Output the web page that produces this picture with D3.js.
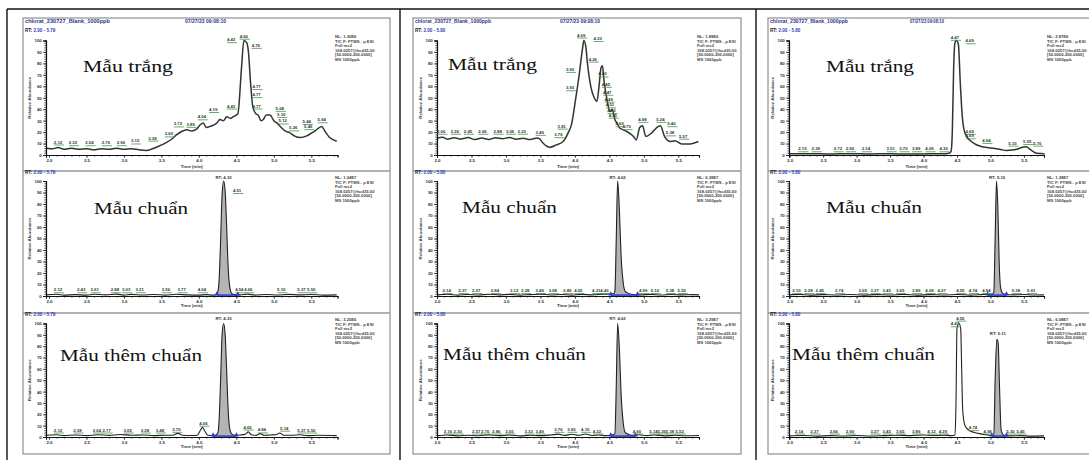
<!DOCTYPE html>
<html><head><meta charset="utf-8">
<script src="https://cdn.jsdelivr.net/npm/d3@7"></script>
<style>body{margin:0;background:#fff}svg{display:block;background:#fff}</style>
</head><body><svg id="c" width="1089" height="460"></svg>
<script>
// ---------------- DATA ----------------
const rowTitles = ["Mẫu trắng", "Mẫu chuẩn", "Mẫu thêm chuẩn"];
const xTicks = [2.0, 2.5, 3.0, 3.5, 4.0, 4.5, 5.0, 5.5];
const yTicks = [0, 10, 20, 30, 40, 50, 60, 70, 80, 90, 100];
const rtRanges = ["2.00 - 5.79", "2.00 - 5.80", "2.00 - 5.80"];
const headerFiles = ["chlorat_230727_Blank_1000ppb", "chlorat_230727_Blank_1000ppb", "chlorat_230727_Blank_1000ppb"];
const headerDates = ["07/27/23 09:08:10", "07/27/23 09:08:10", "07/27/23 09:08:10"];
const nlValues = [["NL: 1.30E6", "NL: 1.04E7", "NL: 3.25E6"],
                  ["NL: 1.89E6", "NL: 6.38E7", "NL: 3.29E7"],
                  ["NL: 2.87E6", "NL: 1.38E7", "NL: 6.08E7"]];
const infoLines = ["TIC F: FTMS - p ESI", "Full ms2", "168.0257@hcd35.00", "[50.0000-200.0000]", "MS 1000ppb"];

// panel 1 traces [time, relative abundance]
const p1Blank = [[1.97,6],[2.05,5.5],[2.12,6.5],[2.2,5],[2.3,6],[2.4,5],[2.5,5.5],[2.6,4.5],[2.7,5.5],[2.8,5],[2.9,6],[3.0,5],[3.1,5.5],[3.2,4.5],[3.3,4],[3.44,7],[3.57,11],[3.64,14],[3.70,17.5],[3.77,20.5],[3.84,22],[3.9,21],[3.97,22.5],[4.01,26],[4.06,28],[4.10,24],[4.15,25],[4.19,26],[4.24,28],[4.28,31],[4.33,30],[4.37,33.5],[4.42,32],[4.46,33.5],[4.52,36],[4.57,77],[4.60,100],[4.64,98],[4.66,91],[4.69,63],[4.72,42],[4.76,36],[4.79,35],[4.83,30],[4.86,31],[4.90,35],[4.95,35],[5.0,30],[5.04,28],[5.10,24],[5.15,21],[5.21,19.6],[5.28,16.5],[5.35,15.2],[5.44,16.7],[5.50,19],[5.55,21],[5.64,25],[5.68,21],[5.75,15],[5.84,12]];
const p1BlankLbl = [[2.12,9.6],[2.32,9],[2.54,9],[2.76,9],[2.96,9],[3.15,10.5],[3.38,13],[3.60,16.7],[3.72,25.4],[3.89,25],[4.04,31.6],[4.19,38],[4.43,41],[4.43,99],[4.60,102],[4.76,94],[4.77,58],[4.77,51],[4.77,41],[5.08,39],[5.10,33.6],[5.12,28],[5.26,22],[5.44,27.5],[5.46,23],[5.64,29]];
const p1Std = [[1.96,1],[2.1,1.5],[2.2,0.8],[2.35,1.2],[2.5,0.8],[2.6,1.5],[2.75,1],[2.9,1.6],[3.0,0.8],[3.1,1.4],[3.25,0.9],[3.4,1.3],[3.55,0.8],[3.7,1.5],[3.85,1],[4.0,0.8],[4.1,1.2],[4.18,0.8],[4.22,1],[4.25,3],[4.27,14],[4.29,48],[4.31,88],[4.33,100],[4.35,92],[4.37,62],[4.39,26],[4.41,9],[4.44,2],[4.48,1.2],[4.55,1],[4.65,1.6],[4.75,0.8],[4.9,1.3],[5.05,0.9],[5.2,1.4],[5.35,1],[5.5,1.3],[5.65,0.8],[5.84,1]];
const p1StdLbl = [[2.12,3.7],[2.43,3.7],[2.61,3.7],[2.88,3.7],[3.03,3.7],[3.21,3.7],[3.56,3.7],[3.77,3.7],[4.04,3.7],[4.54,3.7],[4.66,3.7],[5.10,3.7],[5.37,3.7],[5.50,3.7],[4.51,90]];
const p1Spk = [[1.96,1.5],[2.1,2],[2.2,1.2],[2.35,1.8],[2.5,1.2],[2.65,2],[2.8,1.4],[2.95,2.2],[3.1,1.5],[3.25,1.8],[3.4,1.2],[3.55,1.6],[3.65,1.5],[3.72,3.2],[3.78,1.5],[3.9,1.3],[3.98,1.5],[4.02,6],[4.05,8.5],[4.08,5],[4.12,1.5],[4.2,1.2],[4.25,3],[4.27,15],[4.29,50],[4.31,90],[4.33,100],[4.35,91],[4.37,60],[4.39,25],[4.41,8],[4.44,2.5],[4.48,1.5],[4.55,1.8],[4.62,2.5],[4.66,4.5],[4.70,2],[4.76,1.5],[4.82,3],[4.87,1.5],[4.95,1.8],[5.03,2],[5.08,3.5],[5.13,1.6],[5.25,1.5],[5.35,2],[5.45,1.2],[5.6,1.5],[5.84,1.2]];
const p1SpkLbl = [[2.12,4.4],[2.38,4.4],[2.64,4.4],[2.77,4.4],[3.05,4.4],[3.28,4.4],[3.48,4.4],[3.70,5],[4.06,10.4],[4.65,7],[4.84,4.5],[5.14,6],[5.37,4.4],[5.50,4.4]];

// panel 2 traces
const p2Blank = [[2.0,14.7],[2.08,15.5],[2.15,13.8],[2.25,15],[2.35,14],[2.45,15.2],[2.55,13.5],[2.65,14.8],[2.75,13.6],[2.85,15],[2.95,14.2],[3.05,15.3],[3.15,13.8],[3.25,14.6],[3.35,13.5],[3.45,14.8],[3.49,14],[3.54,10.3],[3.64,6.8],[3.73,8.8],[3.83,11.8],[3.90,19.1],[3.95,26.5],[4.01,48.5],[4.06,69],[4.11,92.7],[4.13,100],[4.16,94],[4.18,81],[4.23,60],[4.28,50],[4.32,47],[4.35,60],[4.38,76.5],[4.40,78],[4.42,66],[4.47,47],[4.51,38],[4.54,40],[4.58,31],[4.62,27],[4.65,23.5],[4.70,22],[4.75,20.6],[4.85,16.2],[4.89,13.2],[4.94,24],[4.98,25.6],[5.03,16.2],[5.11,19.1],[5.21,25],[5.24,25.6],[5.30,16.2],[5.38,11.8],[5.45,12.4],[5.55,9.7],[5.67,9.7],[5.79,11.8]];
const p2BlankLbl = [[2.06,19],[2.26,19],[2.45,19],[2.66,19],[2.88,19],[3.06,19],[3.23,19],[3.49,18],[3.76,16],[3.81,23.5],[3.93,57],[3.93,73],[4.09,103],[4.33,100],[4.26,82],[4.40,69],[4.45,60],[4.47,53],[4.49,47],[4.51,42],[4.53,37],[4.55,33],[4.65,25.6],[4.75,23],[4.98,29.4],[5.24,29.4],[5.40,25.6],[5.38,17.6],[5.57,14.7]];
const p2Std = [[2.0,1],[2.15,1.5],[2.3,0.8],[2.45,1.3],[2.6,0.9],[2.75,1.5],[2.9,1],[3.05,1.4],[3.2,0.8],[3.35,1.2],[3.5,1.6],[3.65,0.9],[3.8,1.3],[3.95,0.8],[4.1,1.4],[4.25,1],[4.4,1.5],[4.5,1.8],[4.56,2],[4.58,4],[4.60,50],[4.62,100],[4.645,75],[4.67,35],[4.70,12],[4.73,4],[4.77,2.5],[4.82,1.5],[4.95,1],[5.1,1.4],[5.25,0.9],[5.4,1.3],[5.55,1],[5.7,1.2],[5.8,1]];
const p2StdLbl = [[2.14,3],[2.37,3],[2.57,3],[2.84,3],[3.12,3],[3.28,3],[3.49,3],[3.68,3],[3.89,3],[4.05,3],[4.31,3],[4.43,3],[4.99,3],[5.16,3],[5.38,3],[5.55,3]];
const p2Spk = [[2.0,1.2],[2.15,1.8],[2.3,1],[2.45,1.6],[2.6,1.1],[2.75,1.9],[2.9,1.2],[3.05,1.7],[3.2,1],[3.35,1.5],[3.5,1.2],[3.65,1.8],[3.76,2.5],[3.85,1.4],[3.95,2.4],[4.05,1.5],[4.15,2.6],[4.25,1.3],[4.35,1.7],[4.45,1.2],[4.53,1.5],[4.58,3],[4.60,45],[4.62,100],[4.645,78],[4.67,38],[4.70,13],[4.73,4],[4.77,2.5],[4.83,1.5],[4.92,2],[5.05,1.2],[5.15,1.8],[5.3,1],[5.45,1.5],[5.6,1.1],[5.8,1.3]];
const p2SpkLbl = [[2.16,3.5],[2.30,3.5],[2.57,3.5],[2.70,3.5],[2.86,3.5],[3.05,3.5],[3.33,3.5],[3.49,3.5],[3.76,5],[3.95,5],[4.15,5],[4.32,3.5],[4.90,3.5],[5.14,3.5],[5.26,3.5],[5.38,3.5],[5.52,3.5]];

// panel 3 traces
const p3Blank = [[1.99,1],[2.3,1.2],[2.6,0.8],[2.9,1.2],[3.2,0.9],[3.5,1.1],[3.8,0.8],[4.1,1.1],[4.3,1],[4.38,1.5],[4.41,3],[4.43,20],[4.45,76],[4.47,98],[4.49,100],[4.52,97],[4.55,62],[4.58,33],[4.62,19],[4.69,13],[4.76,10],[4.84,7.8],[4.95,6.5],[5.04,5.8],[5.15,4.8],[5.24,4],[5.32,4.3],[5.39,5],[5.49,7],[5.54,7.3],[5.59,5],[5.64,3],[5.69,1.5],[5.81,1]];
const p3BlankLbl = [[2.19,3.7],[2.39,3.7],[2.72,3.7],[2.90,3.7],[3.14,3.7],[3.51,3.7],[3.70,3.7],[3.89,3.7],[4.09,3.7],[4.30,3.7],[4.47,101],[4.69,98],[4.69,19],[4.69,15],[4.94,11],[5.33,8.6],[5.55,10],[5.70,8.6]];
const p3Std = [[1.99,1],[2.15,1.4],[2.3,0.8],[2.5,1.2],[2.7,0.9],[2.9,1.3],[3.1,0.8],[3.3,1.2],[3.5,0.9],[3.7,1.4],[3.9,0.8],[4.1,1.2],[4.3,0.9],[4.5,1.3],[4.7,0.8],[4.85,1.2],[4.95,1.6],[5.02,1.5],[5.05,3],[5.07,50],[5.09,100],[5.11,78],[5.13,30],[5.15,8],[5.18,2.5],[5.22,1.5],[5.35,1],[5.5,1.3],[5.65,0.9],[5.8,1]];
const p3StdLbl = [[2.10,3],[2.28,3],[2.45,3],[2.74,3],[3.09,3],[3.27,3],[3.45,3],[3.65,3],[3.89,3],[4.09,3],[4.27,3],[4.55,3],[4.74,3],[4.94,3],[5.38,3],[5.61,3]];
const p3Spk = [[1.99,1],[2.2,1.3],[2.4,0.8],[2.6,1.2],[2.8,0.9],[3.0,1.3],[3.2,0.9],[3.4,1.2],[3.6,1.6],[3.8,1.2],[4.0,1.8],[4.15,1.3],[4.3,1.6],[4.42,1.2],[4.47,1.5],[4.485,30],[4.50,96],[4.53,100],[4.555,96],[4.57,60],[4.585,24],[4.62,10],[4.69,5.5],[4.76,4],[4.84,3],[4.96,1.8],[5.03,1.2],[5.05,1.5],[5.07,50],[5.095,86],[5.115,83],[5.135,45],[5.16,6],[5.20,1.5],[5.3,1],[5.45,1.2],[5.6,0.8],[5.8,1]];
const p3SpkLbl = [[2.14,3.5],[2.37,3.5],[2.66,3.5],[2.90,3.5],[3.27,3.5],[3.45,3.5],[3.65,3.5],[3.89,3.5],[4.12,3.5],[4.29,3.5],[4.47,98],[4.55,103],[4.74,6.5],[4.96,3.5],[5.30,3.5],[5.45,3.5]];

// retention-time marks [time, label height] and integrated ranges
const rtMarks = [[null,[4.33,101],[4.33,103]],[null,[4.62,101],[4.62,103]],[null,[5.10,101],[5.11,89]]];
const intRanges = [[null,[4.24,4.52],[4.19,4.50]],[null,[4.52,4.91],[4.52,4.88]],[null,[4.96,5.24],[5.02,5.24]]];
const traces = [[p1Blank,p1Std,p1Spk],[p2Blank,p2Std,p2Spk],[p3Blank,p3Std,p3Spk]];
const labels = [[p1BlankLbl,p1StdLbl,p1SpkLbl],[p2BlankLbl,p2StdLbl,p2SpkLbl],[p3BlankLbl,p3StdLbl,p3SpkLbl]];

// ---------------- LAYOUT ----------------
const panelCfg = [
  {bx0:23, bx1:390, dom:[1.96,5.85], rng:[46,337.5], info:335, file:[25,85], date:[185,41]},
  {bx0:413, bx1:741, dom:[2.0,5.8], rng:[437,699], info:697, file:[415,76], date:[560,40]},
  {bx0:768, bx1:1100, dom:[1.99,5.8], rng:[789,1044], info:1047, file:[770,78], date:[910,34]}
];
const rowCfg = [
  {rtY:32, y0:155, y100:40.5, tickY:162, timeY:168, infoY:38},
  {rtY:174, y0:296, y100:181, tickY:302, timeY:307, infoY:179},
  {rtY:316, y0:437, y100:323.5, tickY:443, timeY:448, infoY:321}
];
const titlePos = [
  [[83,72,90],[94,214,94],[60,361,142]],
  [[448,70,89],[462,213,95],[443,360,143]],
  [[826,72,88],[826,213,96],[792,360,143]]
];
const tiny = "Liberation Sans, Arial, sans-serif";

const svg = d3.select("#c");

// table borders
const tbl = svg.append("g").attr("stroke","#111").attr("stroke-width",1.4);
tbl.append("line").attr("x1",7).attr("x2",1089).attr("y1",9).attr("y2",9);
[7,400,756].forEach(xx => tbl.append("line").attr("x1",xx).attr("x2",xx).attr("y1",9).attr("y2",460));

panelCfg.forEach((P, pi) => {
  const pg = svg.append("g");
  // frame
  pg.append("rect").attr("x",P.bx0).attr("y",18).attr("width",P.bx1-P.bx0).attr("height",436)
    .attr("fill","none").attr("stroke","#999").attr("stroke-width",1.3);
  [171,313].forEach(yy => pg.append("line").attr("x1",P.bx0).attr("x2",P.bx1).attr("y1",yy).attr("y2",yy)
    .attr("stroke","#999").attr("stroke-width",1.6));
  // header
  pg.append("text").attr("x",P.file[0]).attr("y",23).attr("textLength",P.file[1]).attr("lengthAdjust","spacingAndGlyphs")
    .attr("font-family",tiny).attr("font-size",4.6).attr("font-weight","bold").attr("fill","#2b3590").text(headerFiles[pi]);
  pg.append("text").attr("x",P.date[0]).attr("y",23).attr("textLength",P.date[1]).attr("lengthAdjust","spacingAndGlyphs")
    .attr("font-family",tiny).attr("font-size",4.6).attr("font-weight","bold").attr("fill","#2b3590").text(headerDates[pi]);

  rowCfg.forEach((R, ri) => {
    const g = pg.append("g");
    const x = d3.scaleLinear().domain(P.dom).range(P.rng);
    const y = d3.scaleLinear().domain([0,100]).range([R.y0,R.y100]);
    const pts = traces[pi][ri];

    // RT range label
    const rt = g.append("text").attr("x",P.bx0+2).attr("y",R.rtY).attr("font-family",tiny).attr("font-size",4.6).attr("font-weight","bold");
    rt.append("tspan").attr("fill","#222").text("RT: ");
    rt.append("tspan").attr("fill","#3040c0").text(rtRanges[pi]);

    // info block
    const info = [nlValues[pi][ri]].concat(infoLines);
    info.forEach((s,k) => g.append("text").attr("x",P.info).attr("y",R.infoY+k*4.6)
      .attr("font-family",tiny).attr("font-size",4.2).attr("font-weight","bold").attr("fill","#444").text(s));

    // filled integrated peak
    const ir = intRanges[pi][ri];
    if (ir) {
      const sub = pts.filter(d => d[0] >= ir[0] && d[0] <= ir[1]);
      g.append("path").datum(sub)
        .attr("d", d3.area().x(d=>x(d[0])).y0(y(0.8)).y1(d=>y(d[1])).curve(d3.curveMonotoneX))
        .attr("fill","#b4b4b4").attr("stroke","none");
    }

    // trace
    g.append("path").datum(pts)
      .attr("d", d3.line().x(d=>x(d[0])).y(d=>y(d[1])).curve(d3.curveMonotoneX))
      .attr("fill","none").attr("stroke", ri===0 ? "#333" : "#222").attr("stroke-width", ri===0 ? 1.5 : 1.1);

    // integration baseline
    if (ir) {
      g.append("line").attr("x1",x(ir[0])).attr("x2",x(ir[1])).attr("y1",y(0.8)).attr("y2",y(0.8))
        .attr("stroke","#2a3ad8").attr("stroke-width",1.6);
      ir.forEach(t => g.append("path").attr("d", d3.symbol(d3.symbolTriangle, 10)())
        .attr("transform",`translate(${x(t)},${y(0.8)-1})`).attr("fill","#2a3ad8"));
    }

    // axes
    const minorX = d3.range(2.0, P.dom[1]+0.001, 0.1).filter(t => t >= P.dom[0]);
    const ax = g.append("g").attr("transform",`translate(0,${R.y0})`)
      .call(d3.axisBottom(x).tickValues(minorX).tickSize(1.6).tickFormat(""));
    const ax2 = g.append("g").attr("transform",`translate(0,${R.y0})`)
      .call(d3.axisBottom(x).tickValues(xTicks).tickSize(2.8).tickPadding(1.5).tickFormat(d3.format(".1f")));
    const ay = g.append("g").attr("transform",`translate(${P.rng[0]},0)`)
      .call(d3.axisLeft(y).tickValues(d3.range(0,100.1,2)).tickSize(1.6).tickFormat(""));
    const ay2 = g.append("g").attr("transform",`translate(${P.rng[0]},0)`)
      .call(d3.axisLeft(y).tickValues(yTicks).tickSize(3).tickPadding(1.2));
    [ax,ax2,ay,ay2].forEach(a => {
      a.select(".domain").attr("stroke","#111").attr("stroke-width",1.1);
      a.selectAll(".tick line").attr("stroke","#222").attr("stroke-width",0.8);
      a.selectAll("text").attr("font-family",tiny).attr("font-size",4.4).attr("font-weight","bold").attr("fill","#333");
    });
    g.append("text").attr("x",(P.rng[0]+P.rng[1])/2).attr("y",R.timeY).attr("text-anchor","middle")
      .attr("font-family",tiny).attr("font-size",4.4).attr("font-weight","bold").attr("fill","#333").text("Time (min)");
    g.append("text").attr("transform",`translate(${P.rng[0]-15},${(R.y0+R.y100)/2}) rotate(-90)`).attr("text-anchor","middle")
      .attr("font-family",tiny).attr("font-size",4.4).attr("font-weight","bold").attr("fill","#444").text("Relative Abundance");

    // peak labels
    labels[pi][ri].forEach(d => {
      g.append("line").attr("x1",x(d[0])-4).attr("x2",x(d[0])+6).attr("y1",y(d[1])+1).attr("y2",y(d[1])+1)
        .attr("stroke","#3c9a3c").attr("stroke-width",0.8);
      g.append("text").attr("x",x(d[0])).attr("y",y(d[1])-0.5).attr("text-anchor","middle")
        .attr("font-family",tiny).attr("font-size",4.3).attr("font-weight","bold").attr("fill","#333").text(d[0].toFixed(2));
    });
    const rm = rtMarks[pi][ri];
    if (rm) {
      g.append("text").attr("x",x(rm[0])).attr("y",y(rm[1])-0.5).attr("text-anchor","middle")
        .attr("font-family",tiny).attr("font-size",4.3).attr("font-weight","bold").attr("fill","#333").text("RT: " + rm[0].toFixed(2));
    }

    // sample title
    const tp = titlePos[pi][ri];
    g.append("text").attr("x",tp[0]).attr("y",tp[1]).attr("textLength",tp[2]).attr("lengthAdjust","spacingAndGlyphs")
      .attr("font-family","Liberation Serif, Times New Roman, serif").attr("font-size",17.5).attr("fill","#111")
      .text(rowTitles[ri]);
  });
});
</script></body></html>
